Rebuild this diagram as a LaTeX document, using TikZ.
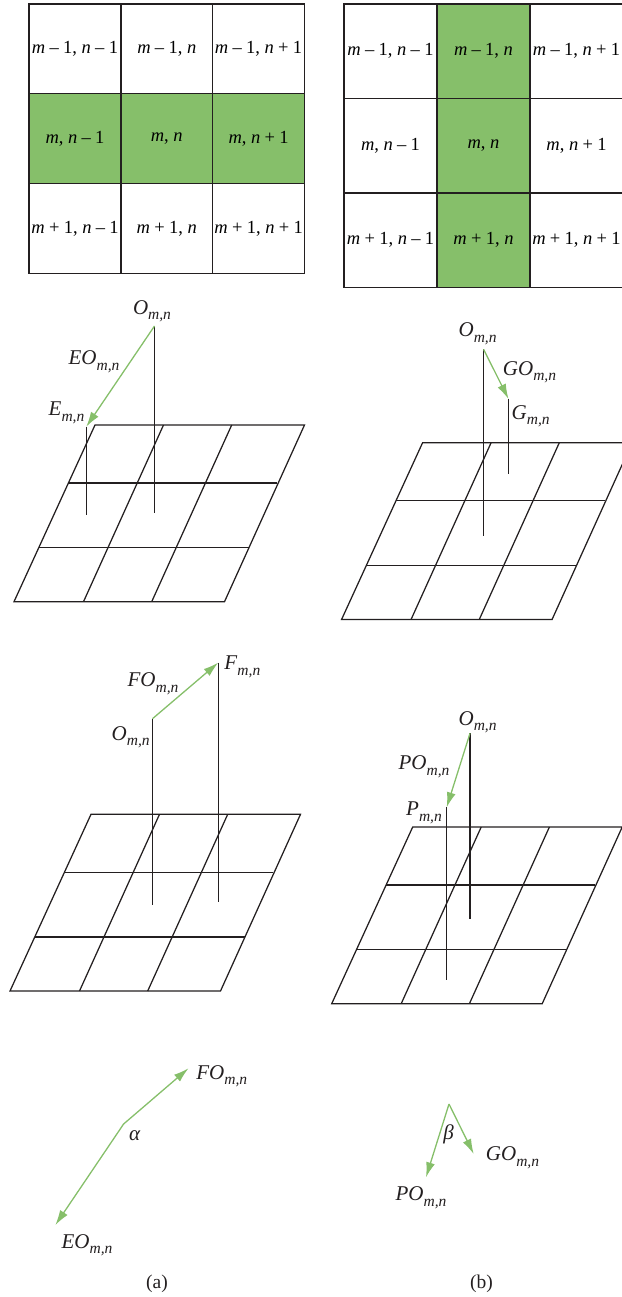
\documentclass[tikz,border=0pt]{standalone}
\usepackage{fontspec}
\setmainfont{Liberation Serif}
\usetikzlibrary{arrows.meta}
\definecolor{leaf}{HTML}{86BF6A}
\definecolor{ink}{HTML}{231F20}
\begin{document}
\begin{tikzpicture}[x=1pt,y=-1pt]
    \tikzset{cell/.style = {shape = rectangle,draw=ink,line width=1.3pt,inner sep = 0pt,outer sep = 0pt,font=\fontsize{18.5}{21}\selectfont},
        hl2/.style = {fill=leaf},
        lab/.style = {inner sep = 0pt,text=ink,font=\fontsize{21}{24}\selectfont},
        stem/.style = {draw=ink,line width=1.25pt},
        vec/.style = {draw=leaf,line width=1.3pt,-{Latex[length=15pt,width=9pt]}},
        plane/.pic = {
            \draw[stem] (0,0) -- (209.5,0) -- (129.5,176.7) -- (-81,176.7) -- cycle;
            \draw[stem] (-27,58) -- (182,58);
            \draw[stem] (-56,122.7) -- (154,122.7);
            \draw[stem] (68.5,0) -- (-11.5,176.7);
            \draw[stem] (136.7,0) -- (56.7,176.7);
        }}
    \def\sm#1{\textit{#1}\raisebox{-5.5pt}{\fontsize{15.5}{17}\selectfont\textit{m,n}}}
    \useasboundingbox (0,0) rectangle (621,1297);
    % the two neighbourhoods
    \foreach \r/\rs in {1/{\kern4.3pt–\kern4.3pt1},2/{},3/{\kern4.3pt+\kern4.3pt1}}{
        \foreach \c/\cs in {1/{\kern4.3pt–\kern4.3pt1},2/{},3/{\kern4.3pt+\kern4.3pt1}}{
            \node[cell,minimum width=91.8pt,minimum height=89.8pt,hl\r/.try] (a\r\c) at ({75+91.8*(\c-1)},{48.9+89.8*(\r-1)}) {\textit{m}\rs, \textit{n}\cs};
            \node[cell,minimum width=93pt,minimum height=94.5pt,hl\c/.try] (b\r\c) at ({390.5+93*(\c-1)},{51.2+94.5*(\r-1)}) {\textit{m}\rs, \textit{n}\cs};
        }
    }
    % the four planes
    \pic at (95,425) {plane};
    \pic at (422.6,442.7) {plane};
    \pic at (91,814.3) {plane};
    \pic at (412.7,827) {plane};
    % top left
    \coordinate (oe) at (154.5,326);
    \coordinate (oeb) at (154.5,512.7);
    \coordinate (e) at (86.3,426.7);
    \coordinate (eb) at (86.3,514.7);
    \draw[stem] (oe) -- (oeb);
    \draw[stem] (e) -- (eb);
    \draw[vec] (oe) -- (e);
    \node[lab] (oelab) at (152,311) {\sm{O}};
    \node[lab] (eolab) at (94,361.7) {\sm{EO}};
    \node[lab] (elab) at (66.5,412.7) {\sm{E}};
    % top right
    \coordinate (og) at (483.6,349.3);
    \coordinate (ogb) at (483.6,535.7);
    \coordinate (g) at (508.5,399);
    \coordinate (gb) at (508.5,474.3);
    \draw[stem] (og) -- (ogb);
    \draw[stem] (g) -- (gb);
    \draw[vec] (og) -- (g);
    \node[lab] (oglab) at (477.6,333.7) {\sm{O}};
    \node[lab] (golab) at (529.5,372) {\sm{GO}};
    \node[lab] (glab) at (530.7,416) {\sm{G}};
    % lower left
    \coordinate (of) at (152.5,718.7);
    \coordinate (ofb) at (152.5,905);
    \coordinate (f) at (218.2,662.7);
    \coordinate (fb) at (218.2,901.7);
    \draw[stem] (of) -- (ofb);
    \draw[stem] (f) -- (fb);
    \draw[vec] (of) -- (f);
    \node[lab] (oflab) at (130.7,737) {\sm{O}};
    \node[lab] (folab) at (153,683.7) {\sm{FO}};
    \node[lab] (flab) at (242.4,667) {\sm{F}};
    % lower right
    \coordinate (op) at (470,733.3);
    \coordinate (opb) at (470,919.3);
    \coordinate (p) at (446.7,807.3);
    \coordinate (pb) at (446.7,980);
    \draw[stem] (op) -- (opb);
    \draw[stem] (p) -- (pb);
    \draw[vec] (op) -- (p);
    \node[lab] (oplab) at (477.6,722) {\sm{O}};
    \node[lab] (polab) at (424,766.7) {\sm{PO}};
    \node[lab] (plab) at (424,812.7) {\sm{P}};
    % the angles
    \coordinate (va) at (123.6,1124);
    \coordinate (tf) at (188.5,1068.3);
    \coordinate (te) at (55.4,1225);
    \draw[vec] (va) -- (tf);
    \draw[vec] (va) -- (te);
    \node[lab] (fotip) at (221.8,1076) {\sm{FO}};
    \node[lab] (alpha) at (134.7,1135.7) {\textit{α}};
    \node[lab] (eotip) at (87,1245) {\sm{EO}};
    \coordinate (vb) at (449,1104);
    \coordinate (tg) at (473.7,1154);
    \coordinate (tp) at (426,1177.3);
    \draw[vec] (vb) -- (tg);
    \draw[vec] (vb) -- (tp);
    \node[lab] (gotip) at (512.5,1157.7) {\sm{GO}};
    \node[lab] (beta) at (448.7,1134) {\textit{β}};
    \node[lab] (potip) at (421,1197.7) {\sm{PO}};
    \node[lab,font=\fontsize{19.5}{22}\selectfont] (capa) at (157,1284) {(a)};
    \node[lab,font=\fontsize{19.5}{22}\selectfont] (capb) at (481.6,1284) {(b)};
\end{tikzpicture}
\end{document}
